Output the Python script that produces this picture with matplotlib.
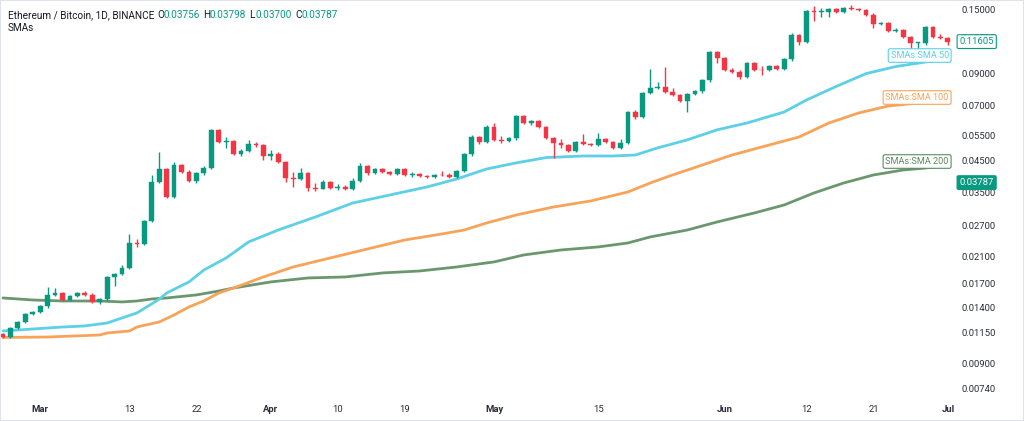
import matplotlib
matplotlib.use("Agg")
import matplotlib.pyplot as plt
import matplotlib.dates as mdates
from matplotlib.patches import Rectangle
from matplotlib.ticker import NullLocator
import matplotlib.transforms as mtransforms
import numpy as np
import pandas as pd

plt.rcParams['font.family'] = ['Roboto', 'DejaVu Sans']

# ---------------- data ----------------
start_date = '2017-02-24'

opens = [0.01138, 0.01111, 0.01194, 0.01252, 0.01334, 0.01355, 0.01422, 0.01552, 0.01576, 0.01491,
         0.01540, 0.01576, 0.01552, 0.01468, 0.01503, 0.01790, 0.01833, 0.01922, 0.02345, 0.02326,
         0.02793, 0.03806, 0.04220, 0.03379, 0.04356, 0.04121, 0.03836, 0.04088, 0.04253, 0.05752,
         0.05230, 0.05271, 0.04753, 0.04868, 0.05146, 0.05106, 0.04679, 0.04753, 0.04462, 0.03928,
         0.03897, 0.04088, 0.03629, 0.03614, 0.03806, 0.03629, 0.03658, 0.03600, 0.03836, 0.04322,
         0.04088, 0.04220, 0.04121, 0.04056, 0.04220, 0.04024, 0.04056, 0.03992, 0.03960, 0.04024,
         0.04010, 0.03960, 0.04154, 0.04753, 0.05441, 0.05230, 0.05891, 0.05313, 0.05271, 0.05398,
         0.06429, 0.06080, 0.06178, 0.05891, 0.05398, 0.05188, 0.05106, 0.04868, 0.05230, 0.05146,
         0.05106, 0.05355, 0.05230, 0.04985, 0.05188, 0.06636, 0.06378, 0.07716, 0.08029, 0.08093,
         0.07800, 0.07595, 0.07241, 0.07655, 0.07840, 0.08556, 0.10686, 0.10187, 0.09263, 0.09117,
         0.08762, 0.09791, 0.09263, 0.09226, 0.09562, 0.09336, 0.10107, 0.12231, 0.11570, 0.14799,
         0.14682, 0.14740, 0.15035, 0.14682, 0.15155, 0.15035, 0.14917, 0.14336, 0.13348, 0.13457,
         0.12625, 0.12726, 0.12039, 0.11477, 0.11523, 0.13034, 0.12039, 0.11944]
highs = [0.01147, 0.01203, 0.01262, 0.01345, 0.01366, 0.01433, 0.01654, 0.01640, 0.01589, 0.01552,
         0.01589, 0.01601, 0.01576, 0.01515, 0.01804, 0.01848, 0.01969, 0.02519, 0.02420, 0.02815,
         0.04024, 0.04830, 0.04254, 0.04462, 0.04391, 0.04187, 0.04121, 0.04321, 0.05798, 0.05798,
         0.05441, 0.05313, 0.04946, 0.05313, 0.05230, 0.05146, 0.04907, 0.04830, 0.04497, 0.04121,
         0.04253, 0.04121, 0.03776, 0.03867, 0.03836, 0.03746, 0.03717, 0.03928, 0.04425, 0.04356,
         0.04253, 0.04253, 0.04154, 0.04253, 0.04253, 0.04121, 0.04089, 0.04024, 0.04056, 0.04154,
         0.04089, 0.04187, 0.04791, 0.05528, 0.05484, 0.05985, 0.06080, 0.05484, 0.05441, 0.06480,
         0.06480, 0.06227, 0.06227, 0.05938, 0.05441, 0.05355, 0.05146, 0.05271, 0.05572, 0.05188,
         0.05616, 0.05398, 0.05271, 0.05355, 0.06689, 0.06742, 0.07778, 0.09336, 0.08421, 0.09487,
         0.08029, 0.07655, 0.07716, 0.07903, 0.08624, 0.10771, 0.10771, 0.10268, 0.09410, 0.09263,
         0.09868, 0.09868, 0.09562, 0.09638, 0.09638, 0.10187, 0.12426, 0.12328, 0.14917, 0.15398,
         0.15155, 0.15155, 0.15155, 0.15275, 0.15521, 0.15155, 0.15035, 0.14566, 0.13560, 0.13560,
         0.12928, 0.12827, 0.12134, 0.11570, 0.13137, 0.13137, 0.12328, 0.12039]
lows = [0.01103, 0.01103, 0.01185, 0.01242, 0.01324, 0.01345, 0.01400, 0.01540, 0.01479, 0.01479,
        0.01528, 0.01540, 0.01456, 0.01445, 0.01479, 0.01667, 0.01819, 0.01907, 0.02272, 0.02308,
        0.02771, 0.03777, 0.03352, 0.03352, 0.04089, 0.03806, 0.03776, 0.04024, 0.04220, 0.05188,
        0.04985, 0.04716, 0.04679, 0.04830, 0.05025, 0.04533, 0.04533, 0.04427, 0.03806, 0.03658,
        0.03867, 0.03544, 0.03544, 0.03600, 0.03600, 0.03572, 0.03572, 0.03572, 0.03806, 0.04024,
        0.04056, 0.04089, 0.04024, 0.04024, 0.03992, 0.03960, 0.03960, 0.03928, 0.03928, 0.03992,
        0.03928, 0.03928, 0.04121, 0.04679, 0.05146, 0.05188, 0.05271, 0.05188, 0.05230, 0.05313,
        0.06032, 0.05985, 0.05845, 0.05355, 0.04605, 0.04985, 0.04830, 0.04830, 0.05106, 0.05066,
        0.05066, 0.05188, 0.04946, 0.04946, 0.05146, 0.06277, 0.06328, 0.07655, 0.07966, 0.07716,
        0.07535, 0.07184, 0.06636, 0.07595, 0.07716, 0.08421, 0.09791, 0.09190, 0.09045, 0.08624,
        0.08693, 0.09190, 0.08902, 0.09190, 0.09263, 0.09263, 0.09949, 0.11297, 0.11480, 0.13669,
        0.14111, 0.14111, 0.14566, 0.14566, 0.14917, 0.14799, 0.14223, 0.12928, 0.13242, 0.12526,
        0.12526, 0.11944, 0.10944, 0.10944, 0.11297, 0.11944, 0.11850, 0.11297]
closes = [0.01111, 0.01194, 0.01252, 0.01334, 0.01355, 0.01422, 0.01552, 0.01576, 0.01491, 0.01540,
          0.01576, 0.01552, 0.01468, 0.01503, 0.01790, 0.01833, 0.01922, 0.02345, 0.02326, 0.02793,
          0.03806, 0.04220, 0.03379, 0.04356, 0.04121, 0.03836, 0.04088, 0.04253, 0.05752, 0.05230,
          0.05271, 0.04753, 0.04868, 0.05146, 0.05106, 0.04679, 0.04753, 0.04462, 0.03928, 0.03897,
          0.04088, 0.03629, 0.03614, 0.03806, 0.03629, 0.03658, 0.03600, 0.03836, 0.04322, 0.04088,
          0.04220, 0.04121, 0.04056, 0.04220, 0.04024, 0.04056, 0.03992, 0.03960, 0.04024, 0.04010,
          0.03960, 0.04154, 0.04753, 0.05441, 0.05230, 0.05891, 0.05313, 0.05271, 0.05398, 0.06429,
          0.06080, 0.06178, 0.05891, 0.05398, 0.05188, 0.05106, 0.04868, 0.05230, 0.05146, 0.05106,
          0.05355, 0.05230, 0.04985, 0.05188, 0.06636, 0.06378, 0.07716, 0.08029, 0.08093, 0.07800,
          0.07595, 0.07241, 0.07655, 0.07840, 0.08556, 0.10686, 0.10187, 0.09263, 0.09117, 0.08762,
          0.09791, 0.09263, 0.09226, 0.09562, 0.09336, 0.10107, 0.12231, 0.11570, 0.14799, 0.14682,
          0.14740, 0.15035, 0.14682, 0.15155, 0.15035, 0.14917, 0.14336, 0.13348, 0.13457, 0.12625,
          0.12726, 0.12039, 0.11477, 0.11523, 0.13034, 0.12039, 0.11944, 0.11605]

# SMA lines (candle index, value)
sma50_idx = [0, 4, 8, 11, 14, 18, 21, 22, 25, 27, 30, 33, 37, 42, 47, 52, 57, 61, 65, 69, 73, 78, 82, 85,
             88, 92, 96, 100, 105, 108, 112, 116, 120, 124, 127]
sma50_val = [0.01166, 0.01184, 0.01203, 0.01213, 0.01242, 0.01345, 0.01500, 0.01576, 0.01721, 0.01892,
             0.02082, 0.02363, 0.02600, 0.02883, 0.03221, 0.03433, 0.03659, 0.03898, 0.04220, 0.04430,
             0.04620, 0.04679, 0.04679, 0.04716, 0.04990, 0.05320, 0.05760, 0.06080, 0.06636, 0.07299,
             0.08130, 0.09000, 0.09520, 0.09871, 0.10107]
sma100_idx = [0, 6, 13, 14, 17, 18, 21, 23, 25, 27, 29, 31, 35, 39, 44, 49, 54, 59, 62, 65, 69, 74, 79,
              84, 87, 90, 94, 98, 102, 107, 111, 115, 119, 123, 127]
sma100_val = [0.01107, 0.01111, 0.01129, 0.01147, 0.01166, 0.01203, 0.01252, 0.01324, 0.01411, 0.01480,
              0.01576, 0.01640, 0.01790, 0.01938, 0.02082, 0.02236, 0.02401, 0.02519, 0.02600, 0.02748,
              0.02929, 0.03121, 0.03273, 0.03516, 0.03776, 0.04024, 0.04356, 0.04716, 0.05026, 0.05441,
              0.06080, 0.06583, 0.06960, 0.07126, 0.07241]
sma200_idx = [0, 4, 8, 13, 16, 18, 20, 22, 26, 29, 31, 36, 41, 46, 51, 56, 61, 66, 70, 75, 80, 84, 87,
              92, 96, 101, 105, 109, 113, 117, 121, 124, 127]
sma200_val = [0.01515, 0.01491, 0.01479, 0.01479, 0.01468, 0.01479, 0.01503, 0.01515, 0.01552, 0.01601,
              0.01640, 0.01721, 0.01776, 0.01790, 0.01848, 0.01877, 0.01938, 0.02017, 0.02132, 0.02218,
              0.02272, 0.02345, 0.02460, 0.02600, 0.02771, 0.02976, 0.03171, 0.03488, 0.03776, 0.04024,
              0.04187, 0.04253, 0.04356]

price_ticks = [0.0074, 0.009, 0.0115, 0.014, 0.017, 0.021, 0.027, 0.035, 0.045, 0.055, 0.07, 0.09, 0.12, 0.15]
date_ticks = ['2017-03-01', '2017-03-13', '2017-03-22', '2017-04-01', '2017-04-10', '2017-04-19',
              '2017-05-01', '2017-05-15', '2017-06-01', '2017-06-12', '2017-06-21', '2017-07-01']
date_labels = ['Mar', '13', '22', 'Apr', '10', '19', 'May', '15', 'Jun', '12', '21', 'Jul']
month_labels = {'Mar', 'Apr', 'May', 'Jun', 'Jul'}

header_title = 'Ethereum / Bitcoin, 1D, BINANCE'
header_ohlc = [('O', '0.03756'), ('H', '0.03798'), ('L', '0.03700'), ('C', '0.03787')]
last_price_label = 0.11605
extra_price_label = 0.03787

# ---------------- style ----------------
UP = '#089981'
DOWN = '#F23645'
TEXT = '#131722'
C50 = '#5CD0E6'
C100 = '#F7A45A'
C200 = '#5B8C5E'

W, H = 1024, 421
fig = plt.figure(figsize=(W / 100, H / 100), dpi=100)
fig.patch.set_facecolor('white')
ax = fig.add_axes([0, 23 / H, 955 / W, 398 / H])
ax.set_facecolor('white')

dates = pd.date_range(start_date, periods=len(closes), freq='D')
x = mdates.date2num(dates.to_pydatetime())
x0 = x[0]

o = np.array(opens); h = np.array(highs); l = np.array(lows); c = np.array(closes)
up = c >= o
cols = np.where(up, UP, DOWN)

ax.set_yscale('log')
ax.set_ylim(0.006845, 0.1615)
ax.set_xlim(x0 - 0.403, x0 + 127.96)

# wicks
ax.vlines(x, l, h, colors=cols, linewidth=1.0, zorder=3)
# bodies
bottom = np.minimum(o, c)
top = np.maximum(o, c)
top = np.maximum(top, bottom * 1.006)
ax.bar(x, top - bottom, bottom=bottom, width=0.64, color=cols, edgecolor=cols,
       linewidth=0.3, zorder=4)

# SMAs
ax.plot(x0 + np.array(sma200_idx), sma200_val, color=C200, lw=2.0, alpha=0.9, zorder=2,
        solid_capstyle='round', solid_joinstyle='round')
ax.plot(x0 + np.array(sma100_idx), sma100_val, color=C100, lw=2.0, zorder=2,
        solid_capstyle='round', solid_joinstyle='round')
ax.plot(x0 + np.array(sma50_idx), sma50_val, color=C50, lw=2.0, zorder=2,
        solid_capstyle='round', solid_joinstyle='round')

for s in ax.spines.values():
    s.set_visible(False)

# y axis on right
ax.yaxis.tick_right()
ax.set_yticks(price_ticks)
ax.set_yticklabels([f'{v:.5f}' for v in price_ticks])
ax.yaxis.set_minor_locator(NullLocator())
ax.tick_params(axis='y', length=0, pad=5, labelsize=6.8, labelcolor='#2A2E39')

# x axis
ax.set_xticks(mdates.date2num(pd.to_datetime(date_ticks).to_pydatetime()))
ax.set_xticklabels(date_labels)
ax.xaxis.set_minor_locator(NullLocator())
ax.tick_params(axis='x', length=0, pad=5, labelsize=6.8, labelcolor='#2A2E39')
for t in ax.get_xticklabels():
    if t.get_text() in month_labels:
        t.set_fontweight('bold')

# SMA labels
blend = mtransforms.blended_transform_factory(ax.transAxes, ax.transData)
for name, val, col in [('SMAs:SMA 50', sma50_val[-1], C50),
                       ('SMAs:SMA 100', sma100_val[-1], C100),
                       ('SMAs:SMA 200', sma200_val[-1], C200)]:
    ax.annotate(name, xy=(0.9935, val), xycoords=blend, xytext=(0, 2.5), textcoords='offset points',
                ha='right', va='center', fontsize=6.6, color=col, zorder=6,
                bbox=dict(boxstyle='round,pad=0.25,rounding_size=0.2', fc='white', ec=col, lw=0.8))

# price labels on the scale
ax.annotate(f'{last_price_label:.5f}', xy=(1.0, last_price_label), xycoords=blend,
            xytext=(3.2, 0), textcoords='offset points', ha='left', va='center',
            fontsize=6.8, color=UP, zorder=7, annotation_clip=False,
            bbox=dict(boxstyle='round,pad=0.25,rounding_size=0.15', fc='white', ec=UP, lw=0.8))
ax.annotate(f'{extra_price_label:.5f}', xy=(1.0, extra_price_label), xycoords=blend,
            xytext=(3.2, 0), textcoords='offset points', ha='left', va='center',
            fontsize=6.8, color='white', zorder=7, annotation_clip=False,
            bbox=dict(boxstyle='round,pad=0.25,rounding_size=0.15', fc=UP, ec=UP, lw=0.8))

# header
fig.text(8 / W, 1 - 15 / H, header_title, fontsize=7.2, color=TEXT, va='center', ha='left')
hx = [157, 203, 249, 295]
for (k, v), px in zip(header_ohlc, hx):
    fig.text(px / W, 1 - 15 / H, k, fontsize=7.2, color=TEXT, va='center', ha='left')
    fig.text((px + 7) / W, 1 - 15 / H, v, fontsize=7.2, color=UP, va='center', ha='left')
fig.text(8 / W, 1 - 28 / H, 'SMAs', fontsize=7.2, color=TEXT, va='center', ha='left')

# outer light frame
fig.patches.append(Rectangle((0, 0), 1, 1, transform=fig.transFigure, fill=False,
                             edgecolor='#E0E3EB', lw=1.5, zorder=10))

fig.savefig('out.png', dpi=100, facecolor='white')
